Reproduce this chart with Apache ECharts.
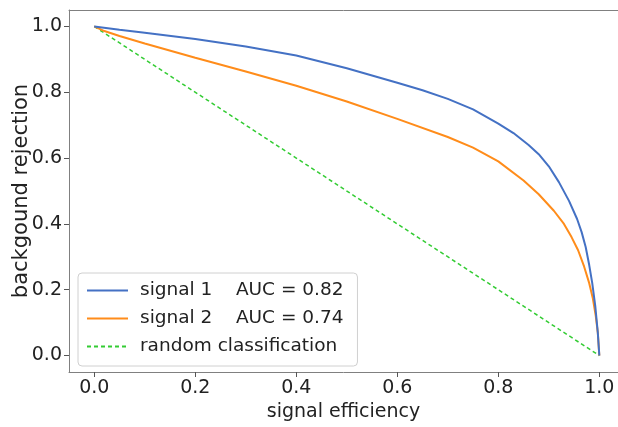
<!DOCTYPE html>
<html>
<head>
<meta charset="utf-8">
<script src="https://cdn.jsdelivr.net/npm/echarts@6/dist/echarts.min.js"></script>
<style>html,body{margin:0;padding:0;background:#fff}#c{width:618px;height:427px}</style>
</head>
<body>
<div id="c"></div>
<script>
// Data
const signal1X = [0, 0.05, 0.1, 0.2, 0.3, 0.4, 0.5, 0.6, 0.65, 0.7, 0.75, 0.8, 0.83, 0.86, 0.88, 0.9, 0.92, 0.94, 0.956, 0.965, 0.973, 0.98, 0.986, 0.992, 0.997, 1.0];
const signal1Y = [1.0, 0.99, 0.981, 0.962, 0.939, 0.912, 0.873, 0.829, 0.806, 0.78, 0.748, 0.705, 0.676, 0.64, 0.612, 0.575, 0.527, 0.47, 0.415, 0.375, 0.33, 0.275, 0.22, 0.15, 0.07, 0.0];
const signal2X = [0, 0.02, 0.05, 0.1, 0.2, 0.3, 0.4, 0.5, 0.6, 0.7, 0.75, 0.8, 0.85, 0.88, 0.91, 0.93, 0.945, 0.958, 0.97, 0.98, 0.987, 0.993, 0.997, 1.0];
const signal2Y = [1.0, 0.986, 0.971, 0.948, 0.905, 0.863, 0.82, 0.772, 0.719, 0.664, 0.632, 0.59, 0.532, 0.49, 0.44, 0.40, 0.36, 0.32, 0.27, 0.22, 0.175, 0.12, 0.07, 0.0];
const randomX = [0, 1];
const randomY = [1, 0];
const tickValues = [0, 0.2, 0.4, 0.6, 0.8, 1.0];
const seriesNames = ['signal 1    AUC = 0.82', 'signal 2    AUC = 0.74', 'random classification'];
const xTitle = 'signal efficiency';
const yTitle = 'backgound rejection';

const zip = (xs, ys) => xs.map((x, i) => [x, ys[i]]);
const FONT = 'DejaVu Sans';
const chart = echarts.init(document.getElementById('c'), null, {renderer: 'canvas'});
const SPINE = '#808080';
function axis(extra) {
  return Object.assign({
    type: 'value', min: -0.05, max: 1.05,
    splitLine: {show: false},
    axisLine: {show: true, onZero: false, lineStyle: {color: SPINE, width: 1}},
    axisTick: {show: true, length: 5, customValues: tickValues, lineStyle: {color: '#555'}},
    axisLabel: {customValues: tickValues, fontFamily: FONT, fontSize: 19, color: '#222', margin: 7,
      formatter: v => v.toFixed(1)},
    nameLocation: 'middle',
    nameMoveOverlap: false,
    nameTextStyle: {fontFamily: FONT, fontSize: 19, color: '#222'}
  }, extra);
}
chart.setOption({
  animation: false,
  backgroundColor: '#fff',
  grid: {left: 69, top: 10, right: 0, bottom: 52, show: false},
  xAxis: [
    axis({name: xTitle, nameGap: 31, max: 1.037}),
    axis({position: 'top', max: 1.037, axisTick: {show: false}, axisLabel: {show: false}})
  ],
  yAxis: axis({name: yTitle, nameGap: 37, nameTextStyle: {fontFamily: FONT, fontSize: 21, color: '#222'}}),
  legend: {
    orient: 'vertical', left: 78, top: 273,
    padding: [8, 14, 10, 8], itemGap: 9, itemWidth: 41, itemHeight: 20,
    backgroundColor: 'rgba(255,255,255,0.9)', borderColor: '#d0d0d0', borderWidth: 1, borderRadius: 4,
    itemStyle: {opacity: 0},
    textStyle: {fontFamily: FONT, fontSize: 18.5, color: '#222', padding: [0, 0, 0, 7]},
    data: seriesNames
  },
  series: [
    {name: seriesNames[0], type: 'line', data: zip(signal1X, signal1Y), symbol: 'none',
      lineStyle: {color: '#4471c4', width: 2}, itemStyle: {color: '#4471c4'}, z: 3},
    {name: seriesNames[1], type: 'line', data: zip(signal2X, signal2Y), symbol: 'none',
      lineStyle: {color: '#ff8c1a', width: 2}, itemStyle: {color: '#ff8c1a'}, z: 2},
    {name: seriesNames[2], type: 'line', data: zip(randomX, randomY), symbol: 'none',
      lineStyle: {color: '#33cc33', width: 1.5, type: [4, 3]}, itemStyle: {color: '#33cc33'}, z: 1}
  ]
});
</script>
</body>
</html>
